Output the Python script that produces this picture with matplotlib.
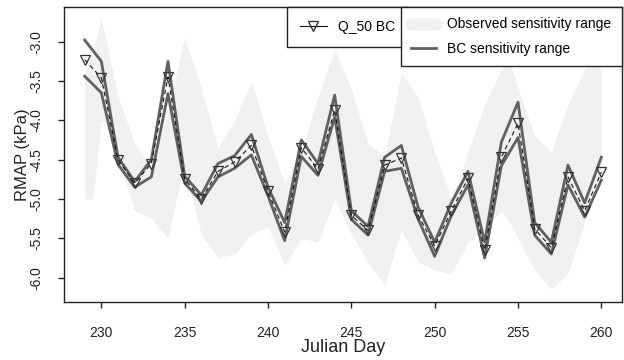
import matplotlib
matplotlib.use("Agg")
import matplotlib.pyplot as plt
from matplotlib.lines import Line2D

plt.rcParams['font.family'] = ['Liberation Sans', 'DejaVu Sans']

# Julian days of the daily series
days = list(range(229, 261))

# Q_50 BC (median)
q50 = [-3.23, -3.46, -4.50, -4.80, -4.55, -3.45, -4.75, -5.00, -4.65, -4.53,
       -4.32, -4.90, -5.42, -4.35, -4.62, -3.87, -5.21, -5.40, -4.57, -4.48,
       -5.20, -5.60, -5.15, -4.74, -5.65, -4.47, -4.04, -5.38, -5.62, -4.72,
       -5.15, -4.66]

# BC sensitivity range
bc_upper = [-2.98, -3.25, -4.47, -4.78, -4.50, -3.25, -4.71, -4.95, -4.55, -4.45,
            -4.18, -4.85, -5.30, -4.25, -4.55, -3.68, -5.15, -5.35, -4.47, -4.32,
            -5.10, -5.55, -5.05, -4.65, -5.55, -4.28, -3.77, -5.30, -5.55, -4.57,
            -5.05, -4.47]
bc_lower = [-3.44, -3.65, -4.56, -4.85, -4.72, -3.66, -4.80, -5.03, -4.72, -4.61,
            -4.44, -4.96, -5.53, -4.46, -4.70, -3.96, -5.26, -5.46, -4.65, -4.61,
            -5.25, -5.73, -5.21, -4.82, -5.75, -4.58, -4.22, -5.46, -5.70, -4.82,
            -5.23, -4.76]

# Observed sensitivity range (finer sampling near the peaks)
obs_days = [229, 229.5, 230, 230.5, 231, 232, 233, 234, 234.5, 235, 236, 237,
            238, 239, 240, 241, 242, 243, 244, 245, 246, 247, 248, 249, 250,
            251, 252, 253, 254, 254.5, 255, 256, 257, 258, 259, 259.5, 260]
obs_upper = [-3.40, -3.10, -2.70, -3.20, -3.70, -4.30, -4.60, -3.90, -3.40, -2.95,
             -3.60, -4.35, -4.00, -3.50, -4.20, -4.80, -4.40, -3.70, -3.10, -3.60,
             -4.30, -4.45, -3.40, -3.70, -4.40, -5.00, -4.40, -3.80, -3.35, -3.25,
             -3.60, -4.20, -4.40, -3.80, -3.35, -3.25, -3.35]
obs_lower = [-5.00, -5.00, -4.00, -4.20, -4.50, -5.15, -5.25, -5.50, -5.00, -4.60,
             -5.45, -5.75, -5.70, -5.45, -5.35, -5.85, -5.50, -5.55, -5.00, -5.45,
             -5.80, -6.10, -5.40, -5.80, -5.90, -5.95, -5.55, -5.40, -5.15, -5.30,
             -5.50, -5.90, -6.15, -5.95, -5.30, -5.00, -4.70]

xticks = [230, 235, 240, 245, 250, 255, 260]
yticks = [-3.0, -3.5, -4.0, -4.5, -5.0, -5.5, -6.0]

band_col = '#f0f0f0'
bc_col = '#606060'

fig = plt.figure(figsize=(6.24, 3.6), dpi=100)
ax = fig.add_axes([64 / 624, 1 - 302 / 360, 558 / 624, 295 / 360])

ax.fill_between(obs_days, obs_lower, obs_upper, color=band_col, lw=0, zorder=1)
ax.plot(days, bc_upper, color=bc_col, lw=2, zorder=2)
ax.plot(days, bc_lower, color=bc_col, lw=2, zorder=2)
ax.plot(days, q50, color='#111111', lw=0.8, ls=(0, (4, 3)), zorder=3)
ax.plot(days, q50, ls='none', marker='v', ms=7, mfc='none', mec='#333333',
        mew=0.9, zorder=4)

ax.set_xlim(227.76, 261.24)
ax.set_ylim(-6.31, -2.56)
ax.set_xticks(xticks)
ax.set_xticklabels([str(t) for t in xticks])
ax.set_yticks(yticks)
ax.set_yticklabels(['%.1f' % t for t in yticks], rotation=90, va='center')
ax.tick_params(axis='both', direction='out', length=4.5, width=1, labelsize=10,
               colors='#222222')
ax.tick_params(axis='x', pad=13)
ax.tick_params(axis='y', pad=10)
for s in ax.spines.values():
    s.set_linewidth(1)
    s.set_color('#222222')

ax.set_xlabel('Julian Day', fontsize=13, color='#222222', labelpad=-1)
ax.set_ylabel('RMAP (kPa)', fontsize=12, color='#222222', labelpad=0)

h1 = [Line2D([], [], color='#111111', lw=0.8, marker='v', ms=7, mfc='none',
             mec='#333333')]
leg1 = ax.legend(h1, ['Q_50 BC'], loc='upper right',
                 bbox_to_anchor=(344 / 558, 1.0), borderaxespad=0, fancybox=False,
                 edgecolor='#222222', framealpha=1, fontsize=10, handlelength=1.9,
                 borderpad=0.95)
leg1.get_frame().set_linewidth(1)
ax.add_artist(leg1)

h2 = [Line2D([], [], color=band_col, lw=9, solid_capstyle='round'),
      Line2D([], [], color=bc_col, lw=2)]
leg2 = ax.legend(h2, ['Observed sensitivity range', 'BC sensitivity range'],
                 loc='upper right', bbox_to_anchor=(1.0, 1.0), borderaxespad=0,
                 fancybox=False, edgecolor='#222222', framealpha=1, fontsize=10,
                 handlelength=1.8, borderpad=0.75, labelspacing=0.75)
leg2.get_frame().set_linewidth(1)

fig.savefig('out.png', dpi=100)
